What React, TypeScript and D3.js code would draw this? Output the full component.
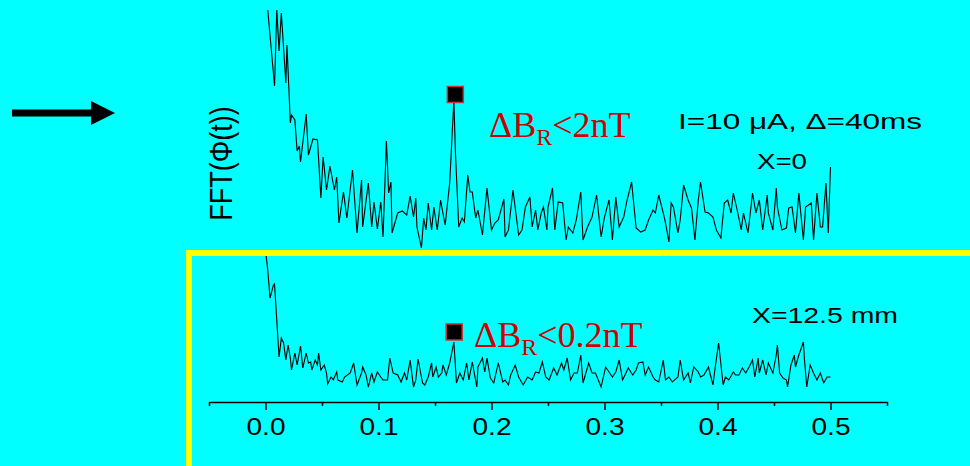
import React, { useEffect, useRef } from 'react';
import * as d3 from 'd3';

const W = 970;
const H = 466;

// frequency axis ticks
const xTicks = [0, 0.1, 0.2, 0.3, 0.4, 0.5];
const xMinorTicks = [-0.05, 0.05, 0.15, 0.25, 0.35, 0.45, 0.55];

// FFT of phi(t) at X=0, [frequency, amplitude (a.u.)]
const topSpectrum: [number, number][] = [
  [0.000, 250], [0.002, 240], [0.008, 164], [0.010, 240], [0.012, 199], [0.014, 237], [0.018, 167], [0.019, 205],
  [0.022, 127], [0.023, 135], [0.026, 130], [0.028, 99], [0.030, 104], [0.031, 88], [0.036, 136], [0.038, 95],
  [0.040, 103], [0.042, 111], [0.046, 110], [0.049, 52], [0.051, 93], [0.054, 60], [0.057, 84], [0.061, 60],
  [0.063, 73], [0.065, 27], [0.069, 58], [0.072, 32], [0.077, 80], [0.081, 17], [0.085, 70], [0.086, 23],
  [0.091, 67], [0.094, 23], [0.096, 48], [0.099, 21], [0.102, 48], [0.104, 13], [0.107, 109], [0.109, 57],
  [0.111, 68], [0.112, 17], [0.117, 37], [0.121, 39], [0.125, 35], [0.128, 54], [0.131, 33], [0.133, 52],
  [0.134, 23], [0.138, 2], [0.140, 32], [0.142, 20], [0.144, 47], [0.147, 20], [0.149, 43], [0.152, 20],
  [0.155, 50], [0.156, 43], [0.159, 25], [0.163, 67], [0.1667, 150], [0.168, 100], [0.171, 23], [0.174, 32],
  [0.176, 28], [0.179, 75], [0.181, 58], [0.183, 58], [0.186, 32], [0.188, 40], [0.192, 15], [0.196, 62],
  [0.200, 20], [0.203, 27], [0.206, 30], [0.211, 51], [0.212, 13], [0.215, 20], [0.219, 60], [0.224, 15],
  [0.227, 20], [0.230, 43], [0.234, 53], [0.236, 23], [0.239, 40], [0.241, 20], [0.244, 37], [0.246, 43],
  [0.249, 20], [0.250, 43], [0.254, 62], [0.256, 20], [0.259, 48], [0.263, 47], [0.266, 10], [0.268, 23],
  [0.272, 17], [0.275, 30], [0.279, 58], [0.281, 10], [0.285, 23], [0.289, 33], [0.293, 55], [0.297, 13],
  [0.300, 33], [0.304, 50], [0.307, 10], [0.310, 53], [0.313, 23], [0.317, 33], [0.320, 50], [0.324, 68],
  [0.328, 22], [0.332, 18], [0.336, 20], [0.339, 30], [0.343, 40], [0.345, 37], [0.348, 55], [0.352, 37],
  [0.354, 27], [0.357, 8], [0.359, 47], [0.361, 43], [0.365, 17], [0.367, 30], [0.370, 65], [0.374, 50],
  [0.377, 42], [0.380, 10], [0.383, 50], [0.385, 68], [0.389, 38], [0.392, 37], [0.396, 33], [0.399, 20],
  [0.403, 12], [0.406, 47], [0.409, 50], [0.412, 37], [0.414, 57], [0.418, 37], [0.421, 20], [0.423, 37],
  [0.427, 17], [0.431, 57], [0.434, 37], [0.437, 50], [0.440, 20], [0.444, 55], [0.445, 37], [0.449, 20],
  [0.452, 62], [0.453, 43], [0.457, 20], [0.461, 22], [0.463, 42], [0.466, 43], [0.469, 17], [0.472, 57],
  [0.476, 10], [0.478, 43], [0.483, 47], [0.485, 10], [0.488, 57], [0.491, 23], [0.493, 23], [0.496, 67],
  [0.498, 17], [0.500, 83],
];

// FFT of phi(t) at X=12.5 mm
const bottomSpectrum: [number, number][] = [
  [0.000, 150], [0.002, 130], [0.004, 102], [0.007, 115], [0.008, 116], [0.012, 43], [0.014, 62], [0.016, 57],
  [0.018, 40], [0.020, 55], [0.022, 42], [0.023, 30], [0.026, 47], [0.028, 35], [0.031, 54], [0.033, 32],
  [0.036, 47], [0.038, 37], [0.040, 38], [0.041, 30], [0.044, 40], [0.046, 35], [0.047, 47], [0.049, 30],
  [0.052, 35], [0.054, 27], [0.055, 16], [0.058, 23], [0.060, 20], [0.063, 28], [0.064, 20], [0.068, 18],
  [0.070, 23], [0.075, 27], [0.078, 37], [0.081, 15], [0.085, 27], [0.086, 33], [0.089, 25], [0.091, 13],
  [0.094, 27], [0.096, 18], [0.099, 28], [0.102, 23], [0.104, 20], [0.108, 20], [0.110, 42], [0.113, 27],
  [0.117, 25], [0.120, 18], [0.123, 27], [0.125, 20], [0.128, 40], [0.131, 13], [0.133, 20], [0.135, 41],
  [0.139, 17], [0.141, 15], [0.144, 23], [0.147, 37], [0.148, 23], [0.151, 33], [0.153, 23], [0.156, 27],
  [0.157, 35], [0.160, 25], [0.163, 37], [0.1667, 58], [0.169, 17], [0.172, 27], [0.175, 20], [0.178, 37],
  [0.180, 20], [0.183, 38], [0.187, 13], [0.188, 33], [0.192, 42], [0.194, 28], [0.196, 42], [0.199, 22],
  [0.202, 17], [0.206, 37], [0.210, 18], [0.212, 20], [0.215, 15], [0.217, 25], [0.221, 35], [0.224, 23],
  [0.228, 15], [0.232, 23], [0.236, 20], [0.239, 28], [0.242, 27], [0.245, 38], [0.248, 23], [0.251, 20],
  [0.255, 32], [0.258, 25], [0.262, 37], [0.264, 30], [0.267, 42], [0.270, 20], [0.273, 27], [0.276, 27],
  [0.279, 45], [0.281, 17], [0.286, 37], [0.289, 27], [0.292, 27], [0.297, 13], [0.301, 33], [0.304, 28],
  [0.307, 23], [0.310, 28], [0.313, 40], [0.316, 20], [0.319, 27], [0.321, 32], [0.325, 25], [0.328, 30],
  [0.330, 37], [0.334, 38], [0.336, 25], [0.339, 33], [0.343, 23], [0.345, 20], [0.348, 18], [0.352, 40],
  [0.354, 20], [0.357, 23], [0.360, 18], [0.365, 23], [0.367, 40], [0.370, 20], [0.374, 27], [0.376, 17],
  [0.379, 33], [0.383, 28], [0.385, 23], [0.388, 25], [0.392, 33], [0.396, 15], [0.398, 33], [0.401, 57],
  [0.405, 15], [0.407, 23], [0.410, 20], [0.414, 28], [0.416, 25], [0.419, 25], [0.422, 32], [0.425, 27],
  [0.428, 33], [0.431, 40], [0.433, 23], [0.436, 42], [0.437, 27], [0.440, 40], [0.443, 25], [0.445, 37],
  [0.449, 27], [0.452, 45], [0.453, 55], [0.455, 27], [0.458, 22], [0.461, 20], [0.462, 13], [0.465, 35],
  [0.468, 45], [0.469, 33], [0.472, 45], [0.476, 58], [0.477, 40], [0.479, 13], [0.482, 35], [0.485, 27],
  [0.488, 20], [0.491, 27], [0.494, 17], [0.497, 23], [0.500, 23],
];

// resonance markers [frequency, amplitude]
const topMarker: [number, number] = [0.168, 155.5];
const bottomMarker: [number, number] = [0.167, 68];

const yLabel = 'FFT(Φ(t))';
const topNote = 'I=10 μA, Δ=40ms';
const topPos = 'X=0';
const bottomPos = 'X=12.5 mm';
const topField = ['ΔB', 'R', '<2nT'];
const bottomField = ['ΔB', 'R', '<0.2nT'];

const SANS = 'Liberation Sans, Arial, Helvetica, sans-serif';
const SERIF = 'Liberation Serif, Times New Roman, serif';

const App = () => {
  const ref = useRef<SVGSVGElement>(null);

  useEffect(() => {
    const svg = d3.select(ref.current);
    svg.selectAll('*').remove();

    svg.append('rect').attr('width', W).attr('height', H).attr('fill', '#00ffff');

    const x = d3.scaleLinear().domain([-0.05, 0.55]).range([209, 887]);
    const yTop = d3.scaleLinear().domain([0, 250]).range([250, 0]);
    const yBottom = d3.scaleLinear().domain([0, 150]).range([400, 250]);

    svg.append('defs').append('clipPath').attr('id', 'clipTop')
      .append('rect').attr('x', 200).attr('y', 10).attr('width', 700).attr('height', 240);

    // arrow
    svg.append('rect').attr('x', 12).attr('y', 109.5).attr('width', 80).attr('height', 7).attr('fill', '#000');
    svg.append('path').attr('d', 'M91,101L115,113L91,125Z').attr('fill', '#000');

    const lineTop = d3.line<[number, number]>().x(d => x(d[0])).y(d => yTop(d[1]));
    const lineBottom = d3.line<[number, number]>().x(d => x(d[0])).y(d => yBottom(d[1]));

    svg.append('path').datum(topSpectrum)
      .attr('clip-path', 'url(#clipTop)')
      .attr('d', lineTop).attr('fill', 'none').attr('stroke', '#000').attr('stroke-width', 1.1);

    svg.append('path').datum(bottomSpectrum)
      .attr('d', lineBottom).attr('fill', 'none').attr('stroke', '#000').attr('stroke-width', 1.1);

    // markers
    [[x(topMarker[0]), yTop(topMarker[1])], [x(bottomMarker[0]), yBottom(bottomMarker[1])]].forEach(([cx, cy]) => {
      svg.append('rect').attr('x', cx - 8).attr('y', cy - 8).attr('width', 16).attr('height', 16)
        .attr('fill', '#000').attr('stroke', '#d03030').attr('stroke-width', 1.5);
    });

    // x axis
    const axis = svg.append('g').attr('transform', 'translate(0,402)')
      .call(d3.axisBottom(x).tickValues(xTicks).tickSize(8).tickSizeOuter(0).tickPadding(8)
        .tickFormat(d3.format('.1f') as any));
    axis.attr('font-family', SANS).attr('font-size', 24);
    axis.select('.domain').attr('stroke-width', 1.6);
    axis.selectAll('.tick line').attr('stroke-width', 1.5);
    axis.selectAll('.tick text').attr('fill', '#000').attr('textLength', 39).attr('lengthAdjust', 'spacingAndGlyphs');

    const minor = svg.append('g').attr('transform', 'translate(0,402)')
      .call(d3.axisBottom(x).tickValues(xMinorTicks).tickSize(4).tickSizeOuter(0).tickFormat(() => ''));
    minor.select('.domain').remove();
    minor.selectAll('.tick line').attr('stroke-width', 1.5);

    // y label
    svg.append('text')
      .attr('transform', 'translate(232,163.5) scale(1.19,1) rotate(-90)')
      .attr('text-anchor', 'middle')
      .attr('font-family', SANS).attr('font-size', 27).attr('fill', '#000')
      .text(yLabel);

    const sansText = (t: string, tx: number, ty: number, len: number) =>
      svg.append('text').attr('x', tx).attr('y', ty)
        .attr('font-family', SANS).attr('font-size', 22).attr('fill', '#000')
        .attr('textLength', len).attr('lengthAdjust', 'spacingAndGlyphs')
        .text(t);

    sansText(topNote, 678, 129, 244);
    sansText(topPos, 757, 169, 50);
    sansText(bottomPos, 752, 323, 146);

    const redText = (parts: string[], tx: number, ty: number) => {
      const t = svg.append('text').attr('x', tx).attr('y', ty)
        .attr('font-family', SERIF).attr('font-size', 36).attr('fill', '#cc0000');
      t.append('tspan').text(parts[0]);
      t.append('tspan').attr('font-size', 24).attr('dy', 8).text(parts[1]);
      t.append('tspan').attr('dy', -8).text(parts[2]);
    };
    redText(topField, 489, 137);
    redText(bottomField, 474, 347);

    // yellow frame
    svg.append('rect').attr('x', 189).attr('y', 253).attr('width', 800).attr('height', 300)
      .attr('fill', 'none').attr('stroke', '#ffff00').attr('stroke-width', 6);
  }, []);

  return (
    <svg ref={ref} width={W} height={H} style={{ position: 'absolute', left: 0, top: 0, display: 'block' }} />
  );
};

export default App;
